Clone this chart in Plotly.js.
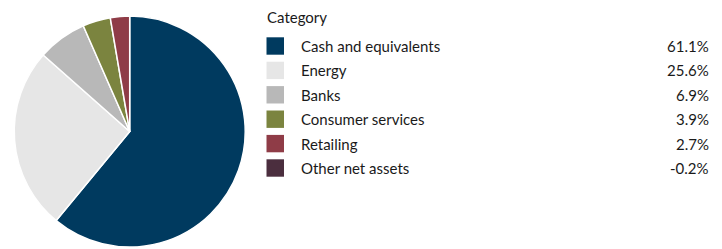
<!DOCTYPE html>
<html><head><meta charset="utf-8">
<script src="https://cdn.plot.ly/plotly-3.0.1.min.js"></script>
<style>html,body{margin:0;padding:0;background:#fff}</style>
</head><body>
<div id="chart" style="width:722px;height:249px"></div>
<script>
const categories = ["Cash and equivalents","Energy","Banks","Consumer services","Retailing","Other net assets"];
const values = [61.1, 25.6, 6.9, 3.9, 2.7, -0.2];
const labels = ["61.1%","25.6%","6.9%","3.9%","2.7%","-0.2%"];
const colors = ["#003a5f","#e6e6e6","#b8b8b8","#7b843f","#8f3c47","#4b2e3e"];
const legendTitle = "Category";

const W = 722, H = 249;
const FONT = "Lato, 'Open Sans', sans-serif";

const pieVals = values.filter(v => v > 0);
const pie = {
  type: "pie",
  values: pieVals,
  labels: categories.slice(0, pieVals.length),
  marker: {colors: colors.slice(0, pieVals.length), line: {color: "#ffffff", width: 1.5}},
  sort: false,
  direction: "clockwise",
  rotation: 0,
  textinfo: "none",
  hoverinfo: "none",
  showlegend: false,
  domain: {x: [14.2/W, 245.2/W], y: [2/H, 233/H]}
};

const rowY0 = 46, rowStep = 24.4;
const shapes = [], annotations = [];
annotations.push({x: 265, y: 17, xref: "x", yref: "y", text: legendTitle, showarrow: false,
  xanchor: "left", yanchor: "middle", font: {family: FONT, size: 15, color: "#1a1a1a"}});
categories.forEach((c, i) => {
  const yc = rowY0 + i * rowStep;
  shapes.push({type: "rect", xref: "x", yref: "y", x0: 266.5, x1: 284, y0: yc - 8.7, y1: yc + 8.7,
    fillcolor: colors[i], line: {width: 0}});
  annotations.push({x: 299, y: yc, xref: "x", yref: "y", text: c, showarrow: false,
    xanchor: "left", yanchor: "middle", font: {family: FONT, size: 15, color: "#1a1a1a"}});
  annotations.push({x: 711, y: yc, xref: "x", yref: "y", text: labels[i], showarrow: false,
    xanchor: "right", yanchor: "middle", font: {family: FONT, size: 15, color: "#1a1a1a"}});
});

const layout = {
  width: W, height: H,
  margin: {l: 0, r: 0, t: 0, b: 0},
  paper_bgcolor: "#fff", plot_bgcolor: "rgba(0,0,0,0)",
  xaxis: {range: [0, W], visible: false, fixedrange: true},
  yaxis: {range: [H, 0], visible: false, fixedrange: true},
  shapes: shapes,
  annotations: annotations,
  showlegend: false
};
Plotly.newPlot("chart", [pie], layout, {displayModeBar: false, staticPlot: true});
</script>
</body></html>
